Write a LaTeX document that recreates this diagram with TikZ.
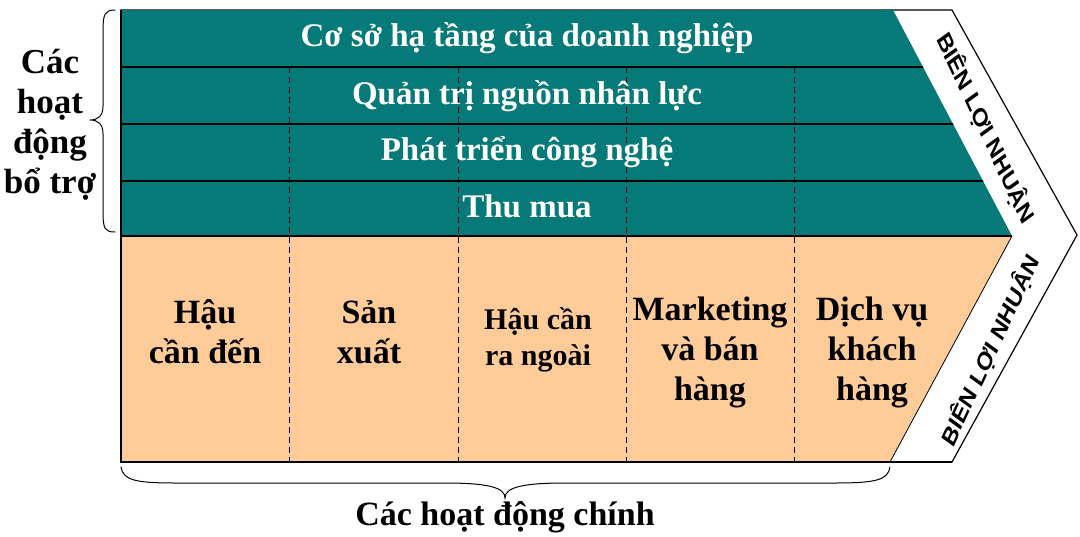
\documentclass[tikz,border=0pt]{standalone}
\usepackage{fontspec}
\setmainfont{Liberation Serif}
\newfontfamily\bienfont{Liberation Sans}
\usepackage{tikz}
\usetikzlibrary{calc}
\definecolor{tealbg}{HTML}{057A78}
\definecolor{peach}{HTML}{FFCC99}

\begin{document}
\begin{tikzpicture}[x=1pt,y=-1pt,
	rowtext/.style={text=white,font=\fontsize{33}{36}\selectfont\bfseries},
	coltext/.style={align=center,font=\fontsize{34}{40}\selectfont\bfseries},
	sidetext/.style={align=center,font=\fontsize{35}{40}\selectfont\bfseries},
	bien/.style={font=\fontsize{26}{26}\selectfont\bienfont\bfseries,xscale=0.8},
	sep/.style={line width=1.4pt},
	dashsep/.style={dash pattern=on 6pt off 4pt,line width=0.9pt},
	curly/.style={line width=1pt,line cap=round}]
	\useasboundingbox (0,0) rectangle (1080,536);
	\fill[white] (0,0) rectangle (1080,536);
	\draw[line width=1.2pt,fill=white] (121,10) -- (952,10) -- (1077,235) -- (952,462) -- (121,462) -- cycle;
	\fill[tealbg] (121,10) -- (893,10) -- (1012,236) -- (121,236) -- cycle;
	\fill[peach] (121,236) -- (1012,236) -- (890,462) -- (121,462) -- cycle;
	\begin{scope}
		\clip (121,10) -- (893,10) -- (1012,236) -- (121,236) -- cycle;
		\foreach \y in {67,124,181}
			\draw[sep] (121,\y) -- (1020,\y);
	\end{scope}
	\draw[sep] (121,236) -- (1012,236);
	\draw[line width=0.8pt] (1012,236) -- (890,462);
	\draw[line width=1.2pt] (121,10) -- (121,462) -- (952,462);
	\foreach \x in {289,458,626,794}
		\draw[dashsep] (\x,67) -- (\x,462);
	\node[rowtext] (infra) at (527,38) {Cơ sở hạ tầng của doanh nghiệp};
	\node[rowtext] (hr) at (527,96) {Quản trị nguồn nhân lực};
	\node[rowtext] (tech) at (527,152) {Phát triển công nghệ};
	\node[rowtext] (buy) at (527,206) {Thu mua};
	\node[coltext] (inbound) at (205,332) {Hậu\\cần đến};
	\node[coltext] (prod) at (369,332) {Sản\\xuất};
	\node[coltext,font=\fontsize{30}{36}\selectfont\bfseries] (outbound) at (538,340) {Hậu cần\\ra ngoài};
	\node[coltext] (market) at (710,352) {Marketing\\và bán\\hàng};
	\node[coltext] (service) at (872,352) {Dịch vụ\\khách\\hàng};
	\node[bien,rotate=-60] (bientop) at (986,128) {BIÊN LỢI NHUẬN};
	\node[bien,rotate=60] (bienbot) at (990,350) {BIÊN LỢI NHUẬN};
	\draw[curly] (115,10) .. controls (105,10) and (103,14) .. (103,30) -- (103,106)
		.. controls (103,116) and (98,120) .. (90,120) .. controls (98,120) and (103,124) .. (103,134)
		-- (103,212) .. controls (103,229) and (105,232) .. (115,232);
	\node[sidetext] (support) at (50,125) {Các\\hoạt\\động\\bổ trợ};
	\draw[curly] (121,467) .. controls (123,480) and (135,483) .. (175,483) -- (445,483)
		.. controls (490,483) and (505,488) .. (505,498) .. controls (505,488) and (520,483) .. (565,483)
		-- (835,483) .. controls (876,483) and (888,480) .. (890,467);
	\node[sidetext,font=\fontsize{34}{40}\selectfont\bfseries] (primary) at (505,517) {Các hoạt động chính};
\end{tikzpicture}
\end{document}
